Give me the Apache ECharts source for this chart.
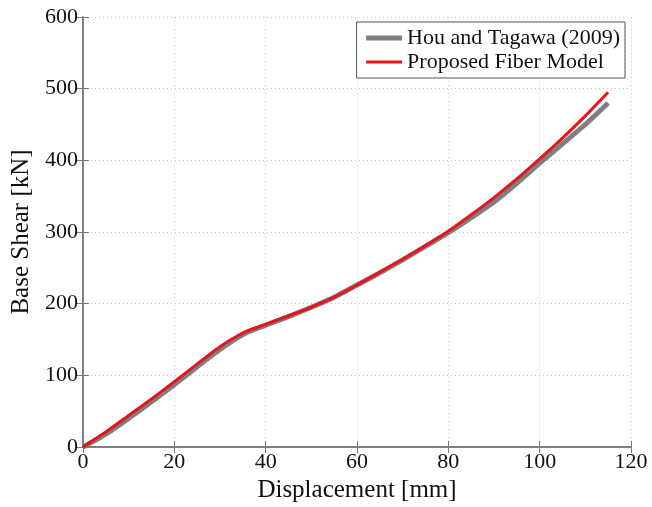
<!DOCTYPE html>
<html>
<head>
<meta charset="utf-8">
<script src="https://cdn.jsdelivr.net/npm/echarts@6/dist/echarts.min.js"></script>
<style>html,body{margin:0;padding:0;background:#fff;}#c{width:652px;height:507px;}</style>
</head>
<body>
<div id="c"></div>
<script>
var displacement = [0,5,10,15,20,25,30,33,36,40,45,50,55,60,65,70,75,80,85,90,95,100,105,110,115];
var houTagawa = [0,18,40,63,87,112,136,149,160,170,182,195,209,226,243,261,280,299,320,342,368,396,423,450,480];
var proposed = [0,21,44,67,91,116,140,152,162,171,183,195,209,226,244,262,281,301,324,348,374,402,431,462,495];
var seriesNames = ['Hou and Tagawa (2009)', 'Proposed Fiber Model'];

function pairs(xs, ys){ return xs.map(function(x,i){ return [x, ys[i]]; }); }

var font = 'Liberation Serif';
var axisColor = '#7a7a7a';
var grayColor = '#7f7f7f';
var redColor = '#e8131b';
var chart = echarts.init(document.getElementById('c'));
chart.setOption({
  animation: false,
  backgroundColor: '#fff',
  grid: {left: 83, right: 21, top: 17, bottom: 60, containLabel: false, outerBoundsMode: 'none'},
  legend: {
    orient: 'vertical', right: 27, top: 22,
    backgroundColor: '#fff',
    borderColor: '#555', borderWidth: 1, borderRadius: 0,
    padding: [5, 5, 5, 7], itemGap: 2,
    itemWidth: 36, itemHeight: 24,
    itemStyle: {opacity: 0},
    textStyle: {fontFamily: font, fontSize: 22, color: '#111'},
    data: [
      {name: seriesNames[0], lineStyle: {width: 5, color: grayColor}},
      {name: seriesNames[1], lineStyle: {width: 3, color: redColor}}
    ]
  },
  xAxis: [{
    type: 'value', min: 0, max: 120, interval: 20,
    name: 'Displacement [mm]', nameLocation: 'middle', nameGap: 31,
    nameTextStyle: {fontFamily: font, fontSize: 25, color: '#111'},
    axisLine: {show: true, lineStyle: {color: axisColor, width: 1.5}},
    axisTick: {show: true, inside: true, length: 6, lineStyle: {color: axisColor}},
    axisLabel: {fontFamily: font, fontSize: 22, color: '#111', margin: 4},
    splitLine: {show: true, lineStyle: {color: '#c8c8c8', type: [1, 3], width: 1}}
  }, {
    type: 'value', min: 0, max: 120, interval: 20, position: 'top',
    axisLine: {show: true, lineStyle: {color: axisColor, width: 1.5}},
    axisTick: {show: true, inside: true, length: 6, lineStyle: {color: axisColor}},
    axisLabel: {show: false}, splitLine: {show: false}
  }],
  yAxis: [{
    type: 'value', min: 0, max: 600, interval: 100,
    name: 'Base Shear [kN]', nameLocation: 'middle', nameGap: 48,
    nameTextStyle: {fontFamily: font, fontSize: 25, color: '#111'},
    axisLine: {show: true, lineStyle: {color: axisColor, width: 1.5}},
    axisTick: {show: true, inside: true, length: 6, lineStyle: {color: axisColor}},
    axisLabel: {fontFamily: font, fontSize: 22, color: '#111', margin: 5},
    splitLine: {show: true, lineStyle: {color: '#c8c8c8', type: [1, 3], width: 1}}
  }, {
    type: 'value', min: 0, max: 600, interval: 100, position: 'right',
    axisLine: {show: true, lineStyle: {color: axisColor, width: 1.5}},
    axisTick: {show: true, inside: true, length: 6, lineStyle: {color: axisColor}},
    axisLabel: {show: false}, splitLine: {show: false}
  }],
  series: [{
    name: seriesNames[0], type: 'line', symbol: 'none', smooth: 0.2,
    data: pairs(displacement, houTagawa),
    lineStyle: {color: grayColor, width: 5}, itemStyle: {color: grayColor}, z: 2
  }, {
    name: seriesNames[1], type: 'line', symbol: 'none', smooth: 0.2,
    data: pairs(displacement, proposed),
    lineStyle: {color: redColor, width: 3}, itemStyle: {color: redColor}, z: 3
  }]
});
</script>
</body>
</html>
